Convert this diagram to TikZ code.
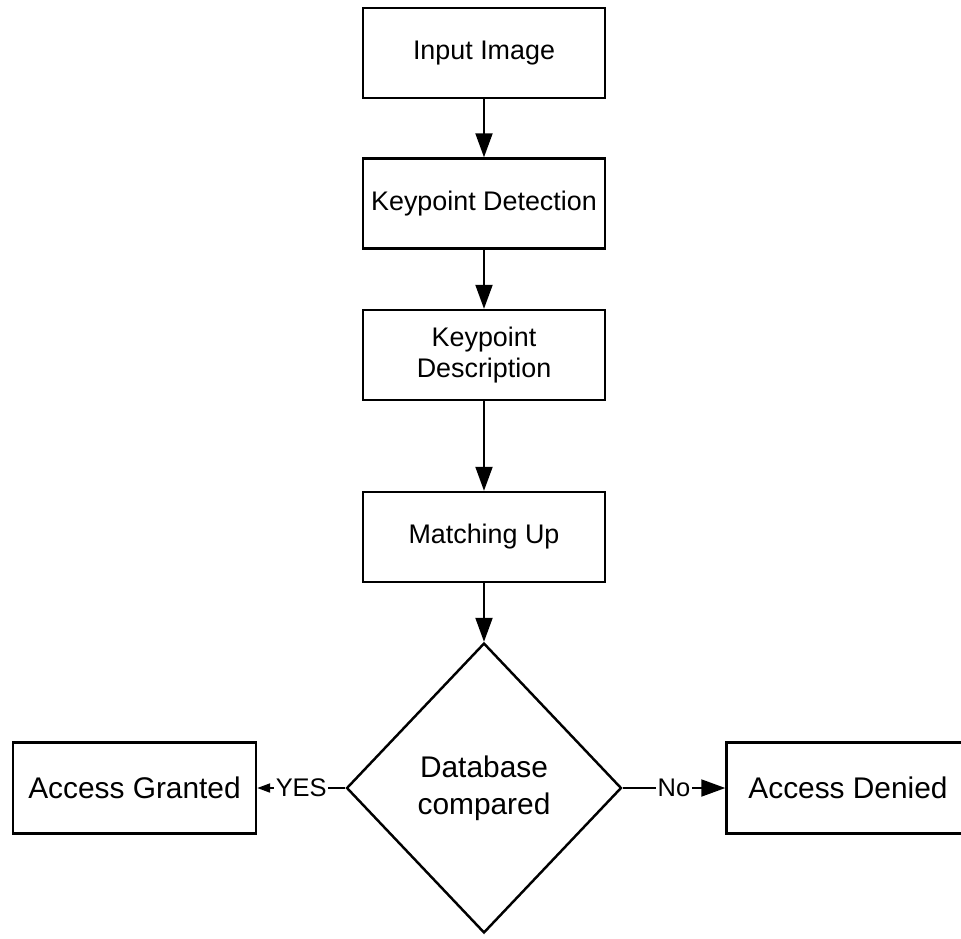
\documentclass[tikz,border=0pt]{standalone}
\usepackage{fontspec}
\setmainfont{Liberation Sans}
\usetikzlibrary{shapes.geometric,arrows.meta}
\begin{document}
\begin{tikzpicture}[x=0.02cm,y=-0.02cm,
        stepbox/.style={draw,line width=1.4pt,minimum width=4.84cm,minimum height=1.8cm,inner sep=0pt,align=center,font=\fontsize{15.3}{18.1}\selectfont},
        endbox/.style={draw,line width=1.4pt,minimum width=4.86cm,minimum height=1.82cm,inner sep=0pt,font=\fontsize{17}{20}\selectfont},
        decision/.style={diamond,draw,line width=1.4pt,minimum width=5.5cm,minimum height=5.8cm,inner sep=0pt,align=center,font=\fontsize{17}{21}\selectfont},
        flow/.style={line width=1.1pt,-{Triangle[length=4.8mm,width=3.4mm]}},
        tag/.style={fill=white,inner sep=1pt,font=\fontsize{14.5}{17}\selectfont}]
        % Draw page frame
        \clip (0,0) rectangle (961,938);
        % Draw steps
        \node[stepbox] (input) at (484,53) {Input Image};
        \node[stepbox] (detect) at (484,203.5) {Keypoint Detection};
        \node[stepbox] (describe) at (484,355) {Keypoint\\Description};
        \node[stepbox] (match) at (484,537) {Matching Up};
        % Draw decision
        \node[decision] (compare) at (484,788) {Database\\compared};
        % Draw outcomes
        \node[endbox] (granted) at (134.5,788) {Access Granted};
        \node[endbox] (denied) at (848,788) {Access Denied};
        % Draw arrows
        \draw[flow] (input) -- (detect);
        \draw[flow] (detect) -- (describe);
        \draw[flow] (describe) -- (match);
        \draw[flow] (match) -- (compare);
        \draw[line width=1.1pt,-{Triangle[length=2.6mm,width=1.8mm]}] (compare) -- node[tag] {YES} (granted);
        \draw[flow] (compare) -- node[tag] {No} (denied);
    \end{tikzpicture}
\end{document}
